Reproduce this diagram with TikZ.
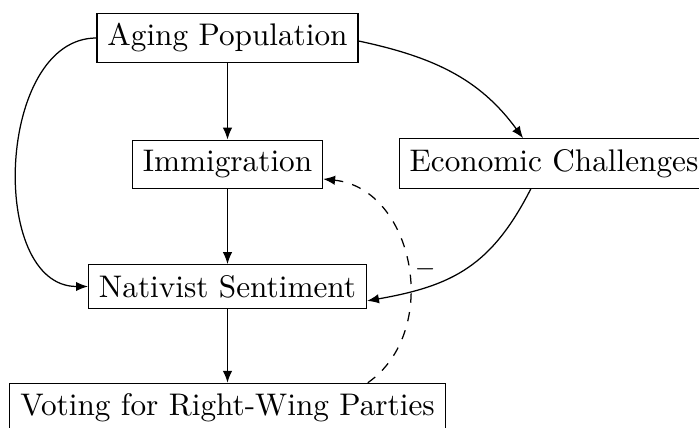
\documentclass[tikz,border=0pt]{standalone}
\usetikzlibrary{arrows.meta}
\begin{document}
\begin{tikzpicture}[x=0.32pt, y=-0.32pt,
  box/.style={draw, inner sep=3.33pt},
  arr/.style={-{Latex[length=3.8pt,width=3pt]}},
  lbl/.style={inner sep=1pt, font=\footnotesize}]
\useasboundingbox (0,0) rectangle (699,428);
\clip (0,0) rectangle (699,428);
\node[box] (age) at (227.5,38) {Aging Population};
\node[box] (imm) at (227.5,164.5) {Immigration};
\node[box] (eco) at (554,163.5) {Economic Challenges};
\node[box] (nat) at (227.5,286.5) {Nativist Sentiment};
\node[box] (vot) at (227.5,408) {Voting for Right-Wing Parties};
\draw[arr] (age) -- (imm);
\draw[arr] (imm) -- (nat);
\draw[arr] (nat) -- (vot);
\draw[arr] ([yshift=-0.96pt]age.east) to[out=-12, in=126] ([xshift=-9.9pt]eco.north);
\draw[arr] ([xshift=-7.4pt]eco.south) to[out=-117, in=10, looseness=1.12] ([yshift=-4.6pt]nat.east);
\draw[arr] (age.west) to[out=180, in=180, looseness=1.03] (nat.west);
\draw[arr, dashed] ([xshift=44.9pt]vot.north) to[out=35, in=-6, looseness=1.12] node[pos=0.5, right, lbl, xshift=1.2pt, yshift=-1.5pt] {$-$} ([yshift=-4.64pt]imm.east);
\end{tikzpicture}
\end{document}
